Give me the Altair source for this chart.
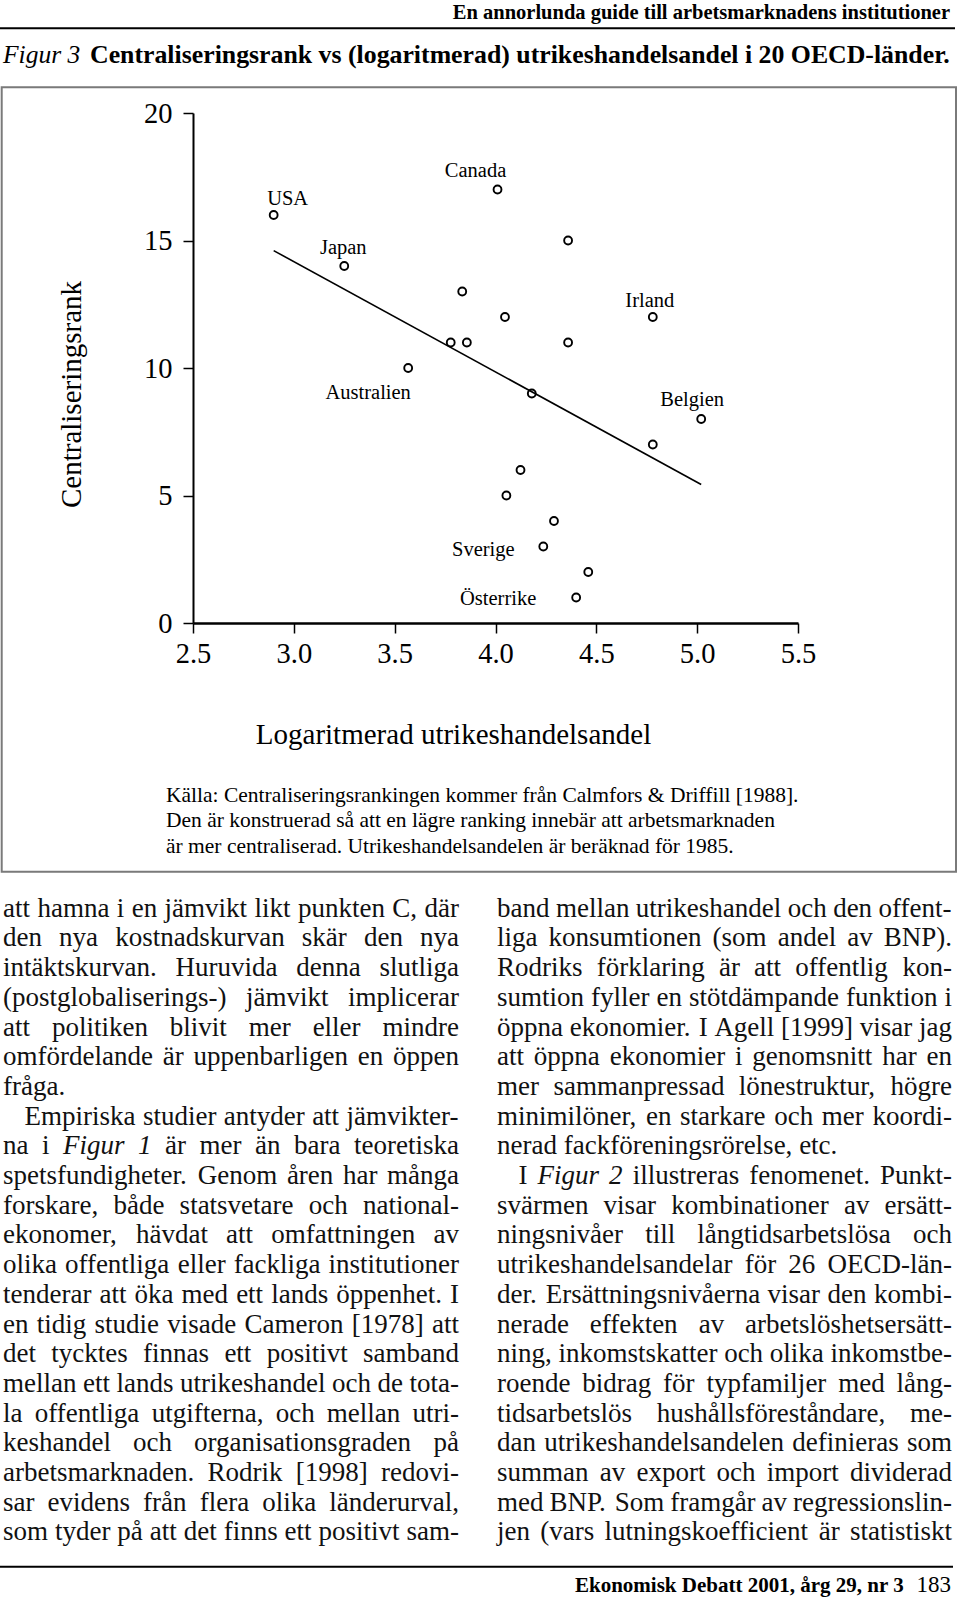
import altair as alt
import pandas as pd

# ---------------- data ----------------
land = ["USA", "Canada", "", "Japan", "", "", "Irland", "", "", "",
        "Australien", "", "Belgien", "", "", "", "", "Sverige", "", "Österrike"]
handel = [2.90, 4.01, 4.36, 3.25, 3.835, 4.047, 4.78, 3.778, 3.858, 4.36,
          3.567, 4.18, 5.02, 4.78, 4.124, 4.054, 4.29, 4.237, 4.46, 4.40]
rank = [16, 17, 15, 14, 13, 12, 12, 11, 11, 11,
        10, 9, 8, 7, 6, 5, 4, 3, 2, 1]
x_ticks = [2.5, 3.0, 3.5, 4.0, 4.5, 5.0, 5.5]
y_ticks = [0, 5, 10, 15, 20]

# ---------------- texts ----------------
header_text = "En annorlunda guide till arbetsmarknadens institutioner"
title_fig = "Figur 3"
title_text = "Centraliseringsrank vs (logaritmerad) utrikeshandelsandel i 20 OECD-länder."
x_title = "Logaritmerad utrikeshandelsandel"
y_title = "Centraliseringsrank"
source_lines = [
    "Källa: Centraliseringsrankingen kommer från Calmfors & Driffill [1988].",
    "Den är konstruerad så att en lägre ranking innebär att arbetsmarknaden",
    "är mer centraliserad. Utrikeshandelsandelen är beräknad för 1985.",
]
left_lines = [
    "att hamna i en jämvikt likt punkten C, där",
    "den nya kostnadskurvan skär den nya",
    "intäktskurvan. Huruvida denna slutliga",
    "(postglobaliserings-) jämvikt implicerar",
    "att politiken blivit mer eller mindre",
    "omfördelande är uppenbarligen en öppen",
    "fråga.",
    "Empiriska studier antyder att jämvikter-",
    "na i *Figur* *1* är mer än bara teoretiska",
    "spetsfundigheter. Genom åren har många",
    "forskare, både statsvetare och national-",
    "ekonomer, hävdat att omfattningen av",
    "olika offentliga eller fackliga institutioner",
    "tenderar att öka med ett lands öppenhet. I",
    "en tidig studie visade Cameron [1978] att",
    "det tycktes finnas ett positivt samband",
    "mellan ett lands utrikeshandel och de tota-",
    "la offentliga utgifterna, och mellan utri-",
    "keshandel och organisationsgraden på",
    "arbetsmarknaden. Rodrik [1998] redovi-",
    "sar evidens från flera olika länderurval,",
    "som tyder på att det finns ett positivt sam-",
]
right_lines = [
    "band mellan utrikeshandel och den offent-",
    "liga konsumtionen (som andel av BNP).",
    "Rodriks förklaring är att offentlig kon-",
    "sumtion fyller en stötdämpande funktion i",
    "öppna ekonomier. I Agell [1999] visar jag",
    "att öppna ekonomier i genomsnitt har en",
    "mer sammanpressad lönestruktur, högre",
    "minimilöner, en starkare och mer koordi-",
    "nerad fackföreningsrörelse, etc.",
    "I *Figur* *2* illustreras fenomenet. Punkt-",
    "svärmen visar kombinationer av ersätt-",
    "ningsnivåer till långtidsarbetslösa och",
    "utrikeshandelsandelar för 26 OECD-län-",
    "der. Ersättningsnivåerna visar den kombi-",
    "nerade effekten av arbetslöshetsersätt-",
    "ning, inkomstskatter och olika inkomstbe-",
    "roende bidrag för typfamiljer med lång-",
    "tidsarbetslös hushållsföreståndare, me-",
    "dan utrikeshandelsandelen definieras som",
    "summan av export och import dividerad",
    "med BNP. Som framgår av regressionslin-",
    "jen (vars lutningskoefficient är statistiskt",
]
footer_text = "Ekonomisk Debatt 2001, årg 29, nr 3"
page_no = "183"

# ---------------- layout / style ----------------
SERIF = "Liberation Serif"
PAGE_W, PAGE_H = 960, 1597
PLOT_L, PLOT_T, PLOT_W, PLOT_H = 193, 113, 605, 510

label_offset = {
    "USA": (14, -10), "Canada": (-22, -13), "Japan": (-1, -12),
    "Irland": (-3, -10), "Belgien": (-9, -13), "Sverige": (-60, 9),
    "Österrike": (-78, 7), "Australien": (-40, 31),
}

# Times-compatible advance widths (1/1000 em) for justified body text
REG = dict(zip("abcdefghijklmnopqrstuvwxyz",
               [444, 500, 444, 500, 444, 333, 500, 500, 278, 278, 500, 278, 778,
                500, 500, 500, 500, 333, 389, 278, 500, 500, 722, 500, 500, 444]))
REG.update(dict(zip("ABCDEFGHIJKLMNOPQRSTUVWXYZ",
                    [722, 667, 667, 722, 611, 556, 722, 722, 333, 389, 722, 611, 889,
                     722, 722, 556, 722, 667, 556, 611, 722, 722, 944, 722, 722, 611])))
REG.update({"å": 444, "ä": 444, "ö": 500, "Å": 722, "Ä": 722, "Ö": 722, "é": 444,
            ",": 250, ".": 250, "-": 333, "(": 333, ")": 333, "[": 333, "]": 333,
            ":": 278, ";": 278, "&": 778})
REG.update({d: 500 for d in "0123456789"})
ITA = {"F": 611, "i": 278, "g": 500, "u": 500, "r": 389, "1": 500, "2": 500}

BODY_SIZE = 27
LINE_H = 29.7
FIRST_BASE = 916.7
INDENT = 21.5


def layout_column(lines, left, width, indent_rows, ragged_rows):
    rows = []
    space = 250 * BODY_SIZE / 1000
    for r, line in enumerate(lines):
        items = []
        for t in line.split(" "):
            ital = t.startswith("*") and t.endswith("*")
            w = t.strip("*")
            tab = ITA if ital else REG
            items.append((w, ital, sum(tab.get(c, 500) for c in w) * BODY_SIZE / 1000))
        ind = INDENT if r in indent_rows else 0
        natural = sum(i[2] for i in items)
        n_gaps = len(items) - 1
        if r in ragged_rows or n_gaps == 0:
            gap = space
        else:
            gap = (width - ind - natural) / n_gaps
        x = left + ind
        for w, ital, wp in items:
            rows.append({"w": w, "stil": "kursiv" if ital else "normal",
                         "px": x - PLOT_L, "py": FIRST_BASE + r * LINE_H - PLOT_T})
            x += wp + gap
    return rows


words = pd.DataFrame(layout_column(left_lines, 3, 456, {7}, {6}) +
                     layout_column(right_lines, 497, 455, {9}, {8}))

df = pd.DataFrame({"land": land, "handel": handel, "rank": rank})
one_row = alt.Data(values=[{"k": 0}])

x_enc = alt.X("handel:Q",
              scale=alt.Scale(domain=[2.5, 5.5], nice=False, zero=False),
              axis=alt.Axis(values=x_ticks, format=".1f", grid=False,
                            labelFont=SERIF, labelFontSize=28.5, labelColor="black",
                            labelPadding=6, labelFlush=False, labelOverlap=False,
                            tickSize=10, tickColor="black", tickWidth=1.5,
                            domainColor="black", domainWidth=2.5,
                            title=x_title, titleFont=SERIF, titleFontSize=29,
                            titleFontWeight="normal", titleColor="black",
                            titleX=260, titleY=120, titleAlign="center",
                            titleBaseline="alphabetic"))
y_enc = alt.Y("rank:Q",
              scale=alt.Scale(domain=[0, 20], nice=False),
              axis=alt.Axis(values=y_ticks, grid=False,
                            labelFont=SERIF, labelFontSize=28.5, labelColor="black",
                            labelPadding=11, labelFlush=False, labelOverlap=False,
                            tickSize=10, tickColor="black", tickWidth=1.5,
                            domainColor="black", domainWidth=2,
                            title=y_title, titleFont=SERIF, titleFontSize=29,
                            titleFontWeight="normal", titleColor="black",
                            titleAngle=270, titleX=-122, titleY=281,
                            titleAlign="center", titleBaseline="middle"))

base = alt.Chart(df)
points = base.mark_point(shape="circle", filled=False, color="black", size=62,
                         strokeWidth=1.9, opacity=1).encode(x=x_enc, y=y_enc)
reg_line = base.transform_regression("handel", "rank").mark_line(
    color="black", strokeWidth=1.6).encode(x=x_enc, y=y_enc)

labels = []
for name, (dx, dy) in label_offset.items():
    labels.append(
        base.transform_filter(alt.datum.land == name)
        .mark_text(font=SERIF, fontSize=20.5, color="black", align="center",
                   baseline="alphabetic", dx=dx, dy=dy)
        .encode(x=x_enc, y=y_enc, text="land:N"))


def deco_text(text, x, y, size, weight="normal", style="normal", align="left",
              line_height=None):
    kw = dict(font=SERIF, fontSize=size, fontWeight=weight, fontStyle=style,
              align=align, baseline="alphabetic", color="black")
    if line_height:
        kw["lineHeight"] = line_height
    return alt.Chart(one_row).mark_text(**kw).encode(
        x=alt.value(x - PLOT_L), y=alt.value(y - PLOT_T), text=alt.value(text))


def deco_rule(x1, x2, y, width, color="black"):
    return alt.Chart(one_row).mark_rule(color=color, strokeWidth=width).encode(
        x=alt.value(x1 - PLOT_L), x2=alt.value(x2 - PLOT_L), y=alt.value(y - PLOT_T))


frame = alt.Chart(one_row).mark_rect(color="white", fillOpacity=0, stroke="#7a7a7a",
                                     strokeWidth=2).encode(
    x=alt.value(1.7 - PLOT_L), x2=alt.value(956 - PLOT_L),
    y=alt.value(87.3 - PLOT_T), y2=alt.value(871.7 - PLOT_T))

body_regular = alt.Chart(words).transform_filter(alt.datum.stil == "normal").mark_text(
    font=SERIF, fontSize=BODY_SIZE, color="#111111", align="left", baseline="alphabetic"
).encode(x=alt.X("px:Q", scale=None, axis=None), y=alt.Y("py:Q", scale=None, axis=None),
         text="w:N")
body_italic = alt.Chart(words).transform_filter(alt.datum.stil == "kursiv").mark_text(
    font=SERIF, fontSize=BODY_SIZE, fontStyle="italic", color="#111111", align="left",
    baseline="alphabetic"
).encode(x=alt.X("px:Q", scale=None, axis=None), y=alt.Y("py:Q", scale=None, axis=None),
         text="w:N")

decor = [
    deco_text(header_text, 950, 19, 20.5, weight="bold", align="right"),
    deco_rule(0, 955, 28.3, 2),
    deco_text(title_fig, 3, 63, 25.5, style="italic"),
    deco_text(title_text, 90, 63, 25.8, weight="bold"),
    deco_text(source_lines, 166, 801.7, 21.5, line_height=25.7),
    deco_rule(0, 953, 1566.7, 2),
    deco_text(footer_text, 575, 1592, 21, weight="bold"),
    deco_text(page_no, 951, 1592, 23, align="right"),
]

chart = alt.layer(frame, reg_line, points, *labels, *decor, body_regular, body_italic).properties(
    width=PLOT_W, height=PLOT_H,
    autosize=alt.AutoSizeParams(type="none"),
    padding={"left": PLOT_L, "top": PLOT_T, "right": PAGE_W - PLOT_L - PLOT_W,
             "bottom": PAGE_H - PLOT_T - PLOT_H},
    background="white",
).configure_view(stroke="transparent")

chart.save("out.html", embed_options={"renderer": "svg", "actions": False})
